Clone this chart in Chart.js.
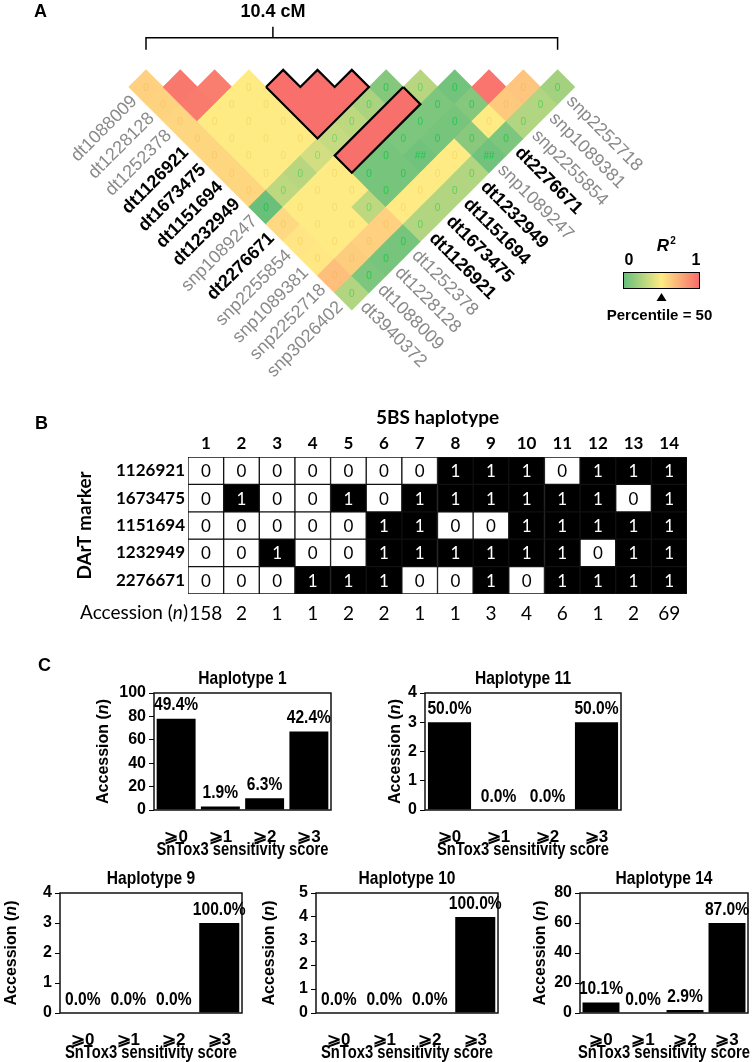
<!DOCTYPE html>
<html>
<head>
<meta charset="utf-8">
<title>5BS LD, haplotypes and SnTox3 sensitivity</title>
<script src="https://cdn.jsdelivr.net/npm/chart.js@4.4.1/dist/chart.umd.min.js"></script>
<style>
  html, body { margin: 0; padding: 0; background: #fff; }
  #page { position: relative; width: 756px; height: 1062px; overflow: hidden; }
  #page canvas { position: absolute; }
  .panel-tag { position: absolute; font: bold 18px Arial, "Liberation Sans", sans-serif; color: #000; }
</style>
</head>
<body>
<div id="page">
  <canvas id="ldChart" width="756" height="395" style="left:0px;top:0px"></canvas>
  <canvas id="hapChart" width="756" height="235" style="left:0px;top:395px"></canvas>
  <div class="panel-tag" style="left:34px;top:1px">A</div>
  <div class="panel-tag" style="left:35px;top:413px">B</div>
  <div class="panel-tag" style="left:38px;top:655px">C</div>
</div>
<script>
// ---------- Panel A data: LD (R²) between markers ----------
const ldMarkers = ['dt3940372', 'dt1088009', 'dt1228128', 'dt1252378', 'dt1126921', 'dt1673475', 'dt1151694',
  'dt1232949', 'snp1089247', 'dt2276671', 'snp2255854', 'snp1089381', 'snp2252718', 'snp3026402'];
const keyMarkers = ['dt1126921', 'dt1673475', 'dt1151694', 'dt1232949', 'dt2276671'];
// ldR2[j - 1][i] = R² between marker i and marker j (i < j)
const ldR2 = [
  [0.30],
  [0.28, 0.90],
  [0.27, 0.88, 0.86],
  [0.26, 0.12, 0.12, 0.12],
  [0.26, 0.12, 0.12, 0.12, 0.96],
  [0.26, 0.12, 0.12, 0.12, 0.96, 0.96],
  [0.26, 0.12, 0.12, 0.12, 0.95, 0.96, 0.96],
  [0.005, 0.07, 0.065, 0.085, 0.075, 0.07, 0.055, 0.025],
  [0.24, 0.12, 0.12, 0.12, 0.95, 0.95, 0.95, 0.95, 0.065],
  [0.16, 0.12, 0.12, 0.12, 0.015, 0.015, 0.02, 0.02, 0.02, 0.012],
  [0.15, 0.12, 0.12, 0.07, 0.015, 0.015, 0.01, 0.015, 0.015, 0.025, 0.92],
  [0.42, 0.32, 0.30, 0.30, 0.13, 0.12, 0.12, 0.12, 0.03, 0.12, 0.35, 0.38],
  [0.06, 0.02, 0.015, 0.015, 0.06, 0.06, 0.06, 0.06, 0.01, 0.02, 0.06, 0.06, 0.05]
];
const overflowCells = [[6, 11], [8, 13]];   // printed as "##"
const ldBlocks = [[4, 7]];                  // outlined: all pairs among markers 4..7
const ldBands = [[9, 4, 7]];                // outlined: marker 9 against markers 4..7
const mapLength = '10.4 cM';

// ---------- Panel B data: haplotypes ----------
const haplotypeIds = ['1', '2', '3', '4', '5', '6', '7', '8', '9', '10', '11', '12', '13', '14'];
const dartMarkers = ['1126921', '1673475', '1151694', '1232949', '2276671'];
const alleles1126921 = [0, 0, 0, 0, 0, 0, 0, 1, 1, 1, 0, 1, 1, 1];
const alleles1673475 = [0, 1, 0, 0, 1, 0, 1, 1, 1, 1, 1, 1, 0, 1];
const alleles1151694 = [0, 0, 0, 0, 0, 1, 1, 0, 0, 1, 1, 1, 1, 1];
const alleles1232949 = [0, 0, 1, 0, 0, 1, 1, 1, 1, 1, 1, 0, 1, 1];
const alleles2276671 = [0, 0, 0, 1, 1, 1, 0, 0, 1, 0, 1, 1, 1, 1];
const accessionCounts = [158, 2, 1, 1, 2, 2, 1, 1, 3, 4, 6, 1, 2, 69];

// ---------- Panel C data: SnTox3 sensitivity per haplotype ----------
const scoreLabels = ['⩾0', '⩾1', '⩾2', '⩾3'];
const hap1Counts = [78, 3, 10, 67];
const hap1Pct = [49.4, 1.9, 6.3, 42.4];
const hap11Counts = [3, 0, 0, 3];
const hap11Pct = [50.0, 0.0, 0.0, 50.0];
const hap9Counts = [0, 0, 0, 3];
const hap9Pct = [0.0, 0.0, 0.0, 100.0];
const hap10Counts = [0, 0, 0, 4];
const hap10Pct = [0.0, 0.0, 0.0, 100.0];
const hap14Counts = [7, 0, 2, 60];
const hap14Pct = [10.1, 0.0, 2.9, 87.0];

const ARIAL = '"Liberation Sans", Arial, sans-serif';
const LATO = 'Lato, "Open Sans", sans-serif';
const SQUEEZE = 0.82;   // Arial Narrow look

// draws "Accession (n)" with an italic n
function drawAccession(ctx, x, y, weight, size, family, rotate, align) {
  const parts = [['Accession (', ''], ['n', 'italic '], [')', '']];
  ctx.save();
  ctx.translate(x, y);
  if (rotate) ctx.rotate(-Math.PI / 2);
  let total = 0;
  parts.forEach(p => { ctx.font = `${p[1]}${weight} ${size}px ${family}`; total += ctx.measureText(p[0]).width; });
  let cx = align === 'right' ? -total : -total / 2;
  ctx.textAlign = 'left';
  ctx.textBaseline = 'middle';
  ctx.fillStyle = '#000';
  parts.forEach(p => {
    ctx.font = `${p[1]}${weight} ${size}px ${family}`;
    ctx.fillText(p[0], cx, 0);
    cx += ctx.measureText(p[0]).width;
  });
  ctx.restore();
}

// condensed bold text
function narrowText(ctx, text, x, y, size, baseline) {
  ctx.save();
  ctx.translate(x, y);
  ctx.scale(SQUEEZE, 1);
  ctx.font = `bold ${size}px ${ARIAL}`;
  ctx.textAlign = 'center';
  ctx.textBaseline = baseline || 'middle';
  ctx.fillStyle = '#000';
  ctx.fillText(text, 0, 0);
  ctx.restore();
}

// ================= Panel A =================
const CELL_PX = 34.3, ORIGIN_X = 128.85, ORIGIN_Y = 69.85;
const GREEN = [99, 190, 123], YELLOW = [255, 235, 132], RED = [248, 105, 107];

// midpoint of the colour scale = 50th percentile of the values
const r2Sorted = ldR2.flat().sort((a, b) => a - b);
const r2Mid = r2Sorted[Math.floor(r2Sorted.length / 2)];

function mixRgb(a, b, t) { return a.map((c, k) => Math.round(c + (b[k] - c) * t)); }
function r2Color(v) {
  const rgb = v <= r2Mid ? mixRgb(GREEN, YELLOW, v / r2Mid) : mixRgb(YELLOW, RED, (v - r2Mid) / (1 - r2Mid));
  return `rgb(${rgb.join(',')})`;
}

const ldCells = [];
ldR2.forEach((row, jm) => {
  const j = jm + 1;
  row.forEach((v, i) => ldCells.push({ x: (i + j) / 2, y: j - i, v: v, i: i, j: j }));
});

function blockOutline([a, b]) {
  const pts = [{ x: a, y: 1 }];
  for (let m = a; m < b; m++) pts.push({ x: m + 0.5, y: 0 }, { x: m + 1, y: 1 });
  pts.push({ x: (a + b) / 2, y: b - a + 1 }, { x: a, y: 1 });
  return pts;
}
function bandOutline([j, a, b]) {
  return [
    { x: (b + j) / 2, y: j - b - 1 },
    { x: (b + j) / 2 + 0.5, y: j - b },
    { x: (a + j) / 2, y: j - a + 1 },
    { x: (a + j) / 2 - 0.5, y: j - a },
    { x: (b + j) / 2, y: j - b - 1 }
  ];
}
function outlineDataset(points) {
  return { data: points, showLine: true, borderColor: '#000', borderWidth: 2.2, pointRadius: 0,
    fill: false, tension: 0, order: 0 };
}

const ldDecor = {
  id: 'ldDecor',
  afterDatasetsDraw(chart) {
    const { ctx, scales: { x, y } } = chart;
    const u = x.getPixelForValue(1) - x.getPixelForValue(0);
    const n = ldMarkers.length;

    // numbers printed in the cells
    ctx.save();
    ctx.font = `10px ${ARIAL}`;
    ctx.textAlign = 'center';
    ctx.textBaseline = 'middle';
    chart.getDatasetMeta(0).data.forEach((pt, k) => {
      const c = ldCells[k];
      if (c.v >= 0.5) return;
      const over = overflowCells.some(o => o[0] === c.i && o[1] === c.j);
      if (c.v < r2Mid) {
        const a = 0.15 + 0.6 * (1 - c.v / r2Mid);
        ctx.fillStyle = `rgba(0,200,60,${a.toFixed(2)})`;
      } else {
        ctx.fillStyle = 'rgba(225,170,40,0.25)';
      }
      ctx.fillText(over ? '##' : '0', pt.x, pt.y + 1);
    });
    ctx.restore();

    // marker names along both edges
    ctx.save();
    ctx.textBaseline = 'middle';
    for (let j = 1; j < n; j++) {
      const name = ldMarkers[j];
      const key = keyMarkers.includes(name);
      const px = x.getPixelForValue(j / 2) - u / 4 - 3;
      const py = y.getPixelForValue(j) + u / 4 + 3;
      ctx.save();
      ctx.translate(px, py);
      ctx.rotate(-Math.PI / 4);
      ctx.font = `${key ? 'bold ' : ''}18px ${ARIAL}`;
      ctx.fillStyle = key ? '#000' : '#8a8a8a';
      ctx.textAlign = 'right';
      ctx.fillText(name, 0, 0);
      ctx.restore();
    }
    for (let i = 0; i < n - 1; i++) {
      const name = ldMarkers[i];
      const key = keyMarkers.includes(name);
      const px = x.getPixelForValue((i + n - 1) / 2) + u / 4 + 3;
      const py = y.getPixelForValue(n - 1 - i) + u / 4 + 3;
      ctx.save();
      ctx.translate(px, py);
      ctx.rotate(Math.PI / 4);
      ctx.font = `${key ? 'bold ' : ''}18px ${ARIAL}`;
      ctx.fillStyle = key ? '#000' : '#8a8a8a';
      ctx.textAlign = 'left';
      ctx.fillText(name, 0, 0);
      ctx.restore();
    }
    ctx.restore();

    // bracket with map length
    const apex = y.getPixelForValue(0);
    const bx0 = x.getPixelForValue(0.5), bx1 = x.getPixelForValue(n - 1.5);
    const bxc = x.getPixelForValue(4.2);
    ctx.save();
    ctx.strokeStyle = '#000';
    ctx.lineWidth = 1.5;
    ctx.beginPath();
    ctx.moveTo(bx0, apex - 20); ctx.lineTo(bx0, apex - 32); ctx.lineTo(bx1, apex - 32); ctx.lineTo(bx1, apex - 20);
    ctx.moveTo(bxc, apex - 32); ctx.lineTo(bxc, apex - 43);
    ctx.stroke();
    ctx.font = `bold 18px ${ARIAL}`;
    ctx.fillStyle = '#000';
    ctx.textAlign = 'center';
    ctx.textBaseline = 'middle';
    ctx.fillText(mapLength, bxc, apex - 58);
    ctx.restore();

    // colour-scale legend
    const lx0 = 623, lx1 = 700, ly0 = 272, ly1 = 289;
    ctx.save();
    const g = ctx.createLinearGradient(lx0, 0, lx1, 0);
    g.addColorStop(0, `rgb(${GREEN.join(',')})`);
    g.addColorStop(0.5, `rgb(${YELLOW.join(',')})`);
    g.addColorStop(1, `rgb(${RED.join(',')})`);
    ctx.fillStyle = g;
    ctx.fillRect(lx0, ly0, lx1 - lx0, ly1 - ly0);
    ctx.strokeStyle = '#000';
    ctx.lineWidth = 1;
    ctx.strokeRect(lx0 + 0.5, ly0 + 0.5, lx1 - lx0 - 1, ly1 - ly0 - 1);
    ctx.fillStyle = '#000';
    ctx.textAlign = 'center';
    ctx.textBaseline = 'middle';
    ctx.font = `bold 16px ${ARIAL}`;
    ctx.fillText('0', lx0 + 6, ly0 - 11);
    ctx.fillText('1', lx1 - 4, ly0 - 11);
    ctx.font = `italic bold 17px ${ARIAL}`;
    ctx.fillText('R', 663, 246);
    ctx.font = `bold 10px ${ARIAL}`;
    ctx.fillText('2', 673, 241);
    const tx = (lx0 + lx1) / 2;
    ctx.beginPath();
    ctx.moveTo(tx, ly1 + 4); ctx.lineTo(tx - 5, ly1 + 12); ctx.lineTo(tx + 5, ly1 + 12); ctx.closePath();
    ctx.fill();
    ctx.font = `bold 15px ${ARIAL}`;
    ctx.fillText('Percentile = 50', tx - 2, ly1 + 27);
    ctx.restore();
  }
};

new Chart(document.getElementById('ldChart'), {
  type: 'scatter',
  data: {
    datasets: [
      { data: ldCells, pointStyle: 'rectRot', pointRadius: CELL_PX / 2 + 0.5, pointBorderWidth: 0,
        pointBackgroundColor: ldCells.map(c => r2Color(c.v)), order: 1 },
      ...ldBlocks.map(b => outlineDataset(blockOutline(b))),
      ...ldBands.map(b => outlineDataset(bandOutline(b)))
    ]
  },
  options: {
    responsive: false,
    animation: false,
    events: [],
    layout: { padding: 0, autoPadding: false },
    scales: {
      x: { type: 'linear', display: false, min: -ORIGIN_X / CELL_PX, max: (756 - ORIGIN_X) / CELL_PX },
      y: { type: 'linear', display: false, reverse: true,
           min: -ORIGIN_Y / (CELL_PX / 2), max: (395 - ORIGIN_Y) / (CELL_PX / 2) }
    },
    plugins: { legend: { display: false }, tooltip: { enabled: false } }
  },
  plugins: [ldDecor]
});

// ================= Panel B =================
const alleleRows = [alleles1126921, alleles1673475, alleles1151694, alleles1232949, alleles2276671];

const hapDecor = {
  id: 'hapDecor',
  afterDatasetsDraw(chart) {
    const { ctx } = chart;
    ctx.save();
    ctx.font = `17px ${LATO}`;
    ctx.textAlign = 'center';
    ctx.textBaseline = 'middle';
    chart.data.datasets.forEach((ds, r) => {
      chart.getDatasetMeta(r).data.forEach((bar, c) => {
        const a = alleleRows[r][c];
        ctx.fillStyle = a ? '#fff' : '#000';
        ctx.fillText(String(a), bar.x, (bar.y + bar.base) / 2 + 1);
      });
    });
    ctx.restore();
    const x2 = chart.scales.x2;
    drawAccession(ctx, chart.chartArea.left, x2.top + 19, '', 19, LATO, false, 'right');
  }
};

new Chart(document.getElementById('hapChart'), {
  type: 'bar',
  data: {
    labels: haplotypeIds,
    datasets: alleleRows.map((row, r) => ({
      label: dartMarkers[r],
      data: row.map(() => 1),
      backgroundColor: row.map(a => (a ? '#000' : '#fff')),
      borderColor: '#111',
      borderWidth: 1,
      borderSkipped: false,
      barPercentage: 1,
      categoryPercentage: 1,
      xAxisID: 'x',
      yAxisID: 'y'
    }))
  },
  options: {
    responsive: false,
    animation: false,
    events: [],
    layout: { padding: { left: 0, right: 69, top: 0, bottom: 0 } },
    scales: {
      x: {
        position: 'top', stacked: true,
        grid: { display: false, drawTicks: false }, border: { display: false },
        ticks: { color: '#000', font: { family: LATO, weight: 'bold', size: 17 }, padding: 3,
                 maxRotation: 0, autoSkip: false },
        title: { display: true, text: '5BS haplotype', color: '#000',
                 font: { family: LATO, weight: 'bold', size: 19 }, padding: { top: 11, bottom: 0 } },
        afterFit: s => { s.height = 62; }
      },
      x2: {
        type: 'category', position: 'bottom', labels: accessionCounts.map(String),
        grid: { display: false, drawTicks: false }, border: { display: false },
        ticks: { color: '#000', font: { family: LATO, size: 19 }, padding: 8, maxRotation: 0, autoSkip: false },
        afterFit: s => { s.height = 36; }
      },
      y: {
        stacked: true, reverse: true, min: 0, max: dartMarkers.length,
        afterBuildTicks: s => { s.ticks = dartMarkers.map((m, i) => ({ value: i + 0.5 })); },
        grid: { display: false, drawTicks: false }, border: { display: false },
        ticks: { color: '#000', font: { family: LATO, weight: 'bold', size: 17 }, padding: 3,
                 callback: (v, i) => dartMarkers[i] },
        title: { display: true, text: 'DArT marker', color: '#000',
                 font: { family: LATO, weight: 'bold', size: 19 }, padding: { top: 73, bottom: 0 } },
        afterFit: s => { s.width = 188; }
      }
    },
    plugins: { legend: { display: false }, tooltip: { enabled: false } }
  },
  plugins: [hapDecor]
});

// ================= Panel C =================
function makeScoreChart(cfg) {
  const box = cfg.box;
  const left = cfg.yTitleX - 12, top = box.t - 30;
  const width = box.r - left + 10, height = box.b - top + 52;
  const canvas = document.createElement('canvas');
  canvas.width = width;
  canvas.height = height;
  canvas.style.left = left + 'px';
  canvas.style.top = top + 'px';
  document.getElementById('page').appendChild(canvas);

  const decor = {
    id: 'scoreDecor',
    afterDatasetsDraw(chart) {
      const { ctx, chartArea: a } = chart;
      ctx.save();
      ctx.strokeStyle = '#111';
      ctx.lineWidth = 1.5;
      ctx.strokeRect(a.left, a.top, a.right - a.left, a.bottom - a.top);
      ctx.restore();
      chart.getDatasetMeta(0).data.forEach((bar, k) => {
        narrowText(ctx, cfg.pct[k].toFixed(1) + '%', bar.x, bar.y - 4, 19, 'bottom');
      });
      narrowText(ctx, cfg.title, (a.left + a.right) / 2, a.top - 14, 19);
      narrowText(ctx, 'SnTox3 sensitivity score', (a.left + a.right) / 2, a.bottom + 40, 18);
      drawAccession(ctx, 12, (a.top + a.bottom) / 2, 'bold', 16, ARIAL, true, 'center');
    }
  };

  new Chart(canvas, {
    type: 'bar',
    data: {
      labels: scoreLabels,
      datasets: [{ data: cfg.counts, backgroundColor: '#000', borderWidth: 0,
                   barPercentage: 0.88, categoryPercentage: 1 }]
    },
    options: {
      responsive: false,
      animation: false,
      events: [],
      layout: { padding: { left: 0, right: 10, top: box.t - top, bottom: 0 } },
      scales: {
        x: {
          grid: { display: false }, border: { display: false },
          ticks: { color: '#000', font: { family: ARIAL, weight: 'bold', size: 17 }, padding: 9 },
          afterFit: s => { s.height = 52; }
        },
        y: {
          min: 0, max: cfg.yMax,
          grid: { drawOnChartArea: false, drawTicks: true, tickLength: 5, color: '#000' },
          border: { display: false },
          ticks: { stepSize: cfg.yStep, color: '#000', font: { family: ARIAL, weight: 'bold', size: 16 }, padding: 3 },
          afterFit: s => { s.width = box.l - left; }
        }
      },
      plugins: { legend: { display: false }, tooltip: { enabled: false } }
    },
    plugins: [decor]
  });
}

makeScoreChart({ title: 'Haplotype 1', counts: hap1Counts, pct: hap1Pct, yMax: 100, yStep: 20,
                 box: { l: 154, t: 693, r: 331, b: 810 }, yTitleX: 104 });
makeScoreChart({ title: 'Haplotype 11', counts: hap11Counts, pct: hap11Pct, yMax: 4, yStep: 1,
                 box: { l: 425, t: 693, r: 621, b: 810 }, yTitleX: 396 });
makeScoreChart({ title: 'Haplotype 9', counts: hap9Counts, pct: hap9Pct, yMax: 4, yStep: 1,
                 box: { l: 60, t: 893, r: 242, b: 1013 }, yTitleX: 12 });
makeScoreChart({ title: 'Haplotype 10', counts: hap10Counts, pct: hap10Pct, yMax: 5, yStep: 1,
                 box: { l: 316, t: 893, r: 498, b: 1013 }, yTitleX: 270 });
makeScoreChart({ title: 'Haplotype 14', counts: hap14Counts, pct: hap14Pct, yMax: 80, yStep: 20,
                 box: { l: 580, t: 893, r: 748, b: 1013 }, yTitleX: 541 });
</script>
</body>
</html>
